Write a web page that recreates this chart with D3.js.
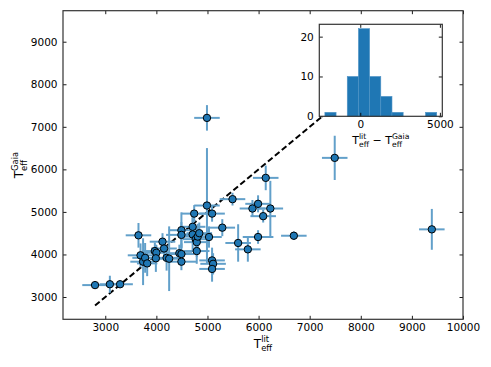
<!DOCTYPE html>
<html>
<head>
<meta charset="utf-8">
<script src="https://cdn.jsdelivr.net/npm/d3@7"></script>
<style>
  body { margin: 0; background: #fff; }
  text { font-family: "DejaVu Sans", sans-serif; fill: #000; white-space: pre; }
</style>
</head>
<body>
<div id="chart"></div>
<script>
// literature vs Gaia effective temperatures (K)
const litTeff  = [2800, 3090, 3290, 3650, 3690, 3740, 3780, 3820, 3970, 4000,
                  3990, 4120, 4150, 4200, 4250, 4450, 4490, 4490, 4490, 4490,
                  4710, 4710, 4740, 4770, 4790, 4810, 4840, 4790, 4990, 5030,
                  5090, 5090, 5110, 5090, 5290, 5490, 5600, 5790, 5880, 5990,
                  6090, 5990, 6140, 6230, 4990, 6690, 7490, 9390];
const gaiaTeff = [3280, 3300, 3300, 4450, 3980, 3830, 3920, 3790, 4080, 4040,
                  3910, 4300, 4140, 3920, 3900, 4030, 4010, 3830, 4570, 4460,
                  4650, 4470, 4960, 4360, 4290, 4420, 4500, 4080, 5150, 4410,
                  4960, 3860, 3780, 3660, 4630, 5300, 4270, 4120, 5080, 5190,
                  4900, 4410, 5800, 5080, 7210, 4440, 6270, 4590];
const litErr   = [250, 200, 250, 250, 250, 250, 250, 200, 250, 250,
                  250, 250, 250, 250, 250, 250, 250, 300, 250, 300,
                  250, 300, 250, 250, 250, 250, 250, 250, 250, 250,
                  250, 250, 250, 250, 250, 250, 250, 250, 250, 250,
                  250, 300, 250, 250, 250, 250, 250, 250];
const gaiaErr  = [60, 200, 80, 290, 280, 550, 350, 300, 200, 180,
                  320, 200, 250, 300, 760, 200, 250, 200, 420, 300,
                  300, 400, 200, 300, 350, 300, 250, 300, 1350, 250,
                  190, 300, 250, 300, 200, 150, 440, 290, 200, 200,
                  150, 160, 290, 650, 300, 100, 520, 480];

// inset histogram of T_lit - T_Gaia, 10 bins
const histCounts = [1, 0, 10, 22, 10, 5, 1, 0, 0, 1];

const xTicks = [3000, 4000, 5000, 6000, 7000, 8000, 9000, 10000];
const yTicks = [3000, 4000, 5000, 6000, 7000, 8000, 9000];
const insetXTicks = [0, 5000];
const insetYTicks = [0, 10, 20];

const W = 491, H = 367;
const plot = {left: 63, right: 463, top: 10.7, bottom: 319.3};
const inset = {left: 319.3, right: 442.3, top: 24.3, bottom: 116.3};
const blue = '#1f77b4';
const errBlue = '#62a0ca';
const tickFont = 10.5;
const fmt = d3.format('d');

const svg = d3.select('#chart').append('svg')
    .attr('width', W).attr('height', H);

const x = d3.scaleLinear().domain([2173, 10000]).range([plot.left, plot.right]);
const y = d3.scaleLinear().domain([2476, 9729]).range([plot.bottom, plot.top]);

// draws T with sub/superscripts, returns total width
function mathLabel(g, pieces, size) {
    let cx = 0;
    pieces.forEach(p => {
        if (typeof p === 'string') {
            const t = g.append('text').attr('x', cx).attr('font-size', size).text(p);
            cx += t.node().getComputedTextLength();
        } else {
            const t = g.append('text').attr('x', cx).attr('font-size', size).text(p[0]);
            cx += t.node().getComputedTextLength();
            const sup = g.append('text').attr('x', cx).attr('y', -0.42 * size)
                .attr('font-size', size * 0.7).text(p[2]);
            const sub = g.append('text').attr('x', cx).attr('y', 0.3 * size)
                .attr('font-size', size * 0.7).text(p[1]);
            cx += Math.max(sup.node().getComputedTextLength(), sub.node().getComputedTextLength());
        }
    });
    return cx;
}

function frameAxes(g, xs, ys, box, xt, yt, pad) {
    g.append('g')
        .attr('transform', `translate(0,${box.bottom})`)
        .call(d3.axisBottom(xs).tickValues(xt).tickFormat(fmt).tickSizeInner(-3.5).tickSizeOuter(0).tickPadding(pad))
        .call(a => a.select('.domain').remove());
    g.append('g')
        .attr('transform', `translate(0,${box.top})`)
        .call(d3.axisTop(xs).tickValues(xt).tickSizeInner(-3.5).tickSizeOuter(0).tickFormat(''))
        .call(a => a.select('.domain').remove());
    g.append('g')
        .attr('transform', `translate(${box.left},0)`)
        .call(d3.axisLeft(ys).tickValues(yt).tickFormat(fmt).tickSizeInner(-3.5).tickSizeOuter(0).tickPadding(pad + 1))
        .call(a => a.select('.domain').remove());
    g.append('g')
        .attr('transform', `translate(${box.right},0)`)
        .call(d3.axisRight(ys).tickValues(yt).tickSizeInner(-3.5).tickSizeOuter(0).tickFormat(''))
        .call(a => a.select('.domain').remove());
    g.selectAll('.tick line').attr('stroke', '#000').attr('stroke-width', 0.9);
    g.selectAll('.tick text')
        .attr('font-family', '"DejaVu Sans", sans-serif')
        .attr('font-size', tickFont).attr('fill', '#000');
    g.append('rect')
        .attr('x', box.left).attr('y', box.top)
        .attr('width', box.right - box.left).attr('height', box.bottom - box.top)
        .attr('fill', 'none').attr('stroke', '#333').attr('stroke-width', 1.2);
}

const pts = litTeff.map((v, i) => ({lit: v, gaia: gaiaTeff[i], el: litErr[i], eg: gaiaErr[i]}));

// 1:1 line
const lineRange = d3.extent(litTeff);
svg.append('path')
    .attr('d', d3.line().x(d => x(d)).y(d => y(d))(lineRange))
    .attr('fill', 'none').attr('stroke', '#000')
    .attr('stroke-width', 2).attr('stroke-dasharray', '6,3');

// error bars
const bars = svg.append('g').attr('stroke', errBlue).attr('stroke-width', 2);
bars.selectAll('.xe').data(pts).enter().append('line')
    .attr('x1', d => x(d.lit - d.el)).attr('x2', d => x(d.lit + d.el))
    .attr('y1', d => y(d.gaia)).attr('y2', d => y(d.gaia));
bars.selectAll('.ye').data(pts).enter().append('line')
    .attr('x1', d => x(d.lit)).attr('x2', d => x(d.lit))
    .attr('y1', d => y(d.gaia - d.eg)).attr('y2', d => y(d.gaia + d.eg));

// markers
svg.append('g').selectAll('circle').data(pts).enter().append('circle')
    .attr('cx', d => x(d.lit)).attr('cy', d => y(d.gaia))
    .attr('r', 3.7).attr('fill', blue)
    .attr('stroke', '#000').attr('stroke-width', 1);

frameAxes(svg.append('g'), x, y, plot, xTicks, yTicks, 4.5);

// axis labels
const xl = svg.append('g');
const xlw = mathLabel(xl, [['T', 'eff', 'lit']], 12);
xl.attr('transform', `translate(${(plot.left + plot.right) / 2 - xlw / 2},347.5)`);

const yl = svg.append('g');
const ylw = mathLabel(yl, [['T', 'eff', 'Gaia']], 12);
yl.attr('transform', `translate(23,${(plot.top + plot.bottom) / 2 + ylw / 2}) rotate(-90)`);

// inset histogram
const diffs = pts.map(d => d.lit - d.gaia);
const [dMin, dMax] = d3.extent(diffs);
const span = dMax - dMin;
const binW = span / histCounts.length;
const hist = histCounts.map((c, i) => ({x0: dMin + i * binW, x1: dMin + (i + 1) * binW, n: c}));

const ix = d3.scaleLinear().domain([dMin - 0.05 * span, dMax + 0.05 * span]).range([inset.left, inset.right]);
const iy = d3.scaleLinear().domain([0, 23.1]).range([inset.bottom, inset.top]);

const ig = svg.append('g');
ig.append('rect')
    .attr('x', inset.left).attr('y', inset.top)
    .attr('width', inset.right - inset.left).attr('height', inset.bottom - inset.top)
    .attr('fill', '#fff');
ig.selectAll('.bar').data(hist.filter(d => d.n > 0)).enter().append('rect')
    .attr('x', d => ix(d.x0)).attr('width', d => ix(d.x1) - ix(d.x0))
    .attr('y', d => iy(d.n)).attr('height', d => iy(0) - iy(d.n))
    .attr('fill', blue).attr('stroke', '#4f93c6').attr('stroke-width', 0.6);

frameAxes(ig, ix, iy, inset, insetXTicks, insetYTicks, 4.5);

const il = svg.append('g');
const ilw = mathLabel(il, [['T', 'eff', 'lit'], ' \u2212 ', ['T', 'eff', 'Gaia']], 11);
il.attr('transform', `translate(${(inset.left + inset.right) / 2 - ilw / 2},143.5)`);
</script>
</body>
</html>
